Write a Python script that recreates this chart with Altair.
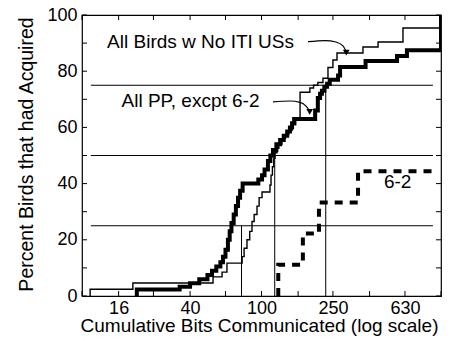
import altair as alt
import pandas as pd

FONT = "Liberation Sans"

# ---- data ----
thin_x = [11.1, 19.2, 53.7, 60.3, 64.2, 78, 80, 83, 86, 88.5,
          91, 94.4, 97, 100.7, 111.5, 113, 115, 117, 119, 122,
          125, 130, 136, 142, 148, 155, 164, 186, 195, 206,
          220, 234.6, 250, 263.4, 367.5, 446, 614, 1000]
thin_y = [2.4, 4.6, 6.8, 8.5, 11.7, 14, 17, 20, 23, 26.5,
          29, 32, 35, 37, 39.5, 43, 46, 49, 51, 52.6,
          54, 56, 57.5, 59, 61, 62.6, 72.5, 74, 75, 76,
          77.5, 81.3, 84, 86.5, 88.6, 90.4, 95.4, 100]
thin_end = 1000

thick_x = [20.2, 35, 40, 45, 50, 53, 56, 59, 61, 63,
           65, 66.5, 68, 70, 72, 74, 76, 78.5, 96, 100.7,
           104, 108.6, 112, 115.8, 121, 127, 133, 139, 144, 148,
           152, 199, 206, 212, 217, 224, 232, 240, 267, 274,
           380, 569, 646, 1000]
thick_y = [2.3, 3.3, 4.5, 6, 7.5, 9, 10.5, 12, 14, 16.5,
           20, 23, 26, 29, 32, 35, 37.5, 40, 41.5, 43,
           45, 48, 50, 52, 54, 55.5, 57, 58.5, 60, 61.5,
           63, 66, 70.5, 72, 73, 74.5, 75.5, 77, 78.5, 81.5,
           83.6, 85.4, 87.5, 100]
thick_end = 1000

pp62_x = [124, 170, 209, 345]
pp62_y = [11.1, 22.2, 33.3, 44.4]
pp62_end = 900

ref_levels = [25, 50, 75]
ref_h_start = 11.2
ref_h_end = 902
ref_v_x = [77.4, 118.5, 228]

x_tick_values = [10, 16, 25, 40, 63, 100, 160, 250, 400, 630, 1000]
x_label_values = [16, 40, 100, 250, 630]
y_tick_values = list(range(0, 101, 10))
y_label_values = [0, 20, 40, 60, 80, 100]

label_texts = ["All Birds w No ITI USs", "All PP, excpt 6-2", "6-2"]
label_x = [13.8, 16.6, 481]
label_y = [88.4, 67.2, 38.3]

arrow1_x = [181.6, 225.9, 260.0, 284.4, 295.6]
arrow1_y = [90.5, 90.9, 90.4, 89.0, 87.2]
arrow2_x = [115.9, 144.2, 163.9, 177.0, 183.9]
arrow2_y = [69.1, 69.4, 68.9, 67.6, 66.2]
head_x = [296.5, 185.5]
head_y = [86.6, 65.5]

W, H = 359, 281
XMIN, XMAX = 10, 1000


def step_rows(name, xs, ys, end):
    rows = [(name, xs[0], 0.0, 0)]
    for i, (a, b) in enumerate(zip(xs, ys)):
        rows.append((name, a, b, i + 1))
    rows.append((name, end, ys[-1], len(xs) + 1))
    return rows


rows = (step_rows("thin", thin_x, thin_y, thin_end)
        + step_rows("thick", thick_x, thick_y, thick_end)
        + step_rows("pp62", pp62_x, pp62_y, pp62_end))
steps = pd.DataFrame(rows, columns=["series", "x", "y", "order"])

xscale = alt.Scale(type="log", domain=[XMIN, XMAX])
yscale = alt.Scale(domain=[0, 100])

xaxis = alt.Axis(values=x_label_values, format="d", tickSize=0, domain=False,
                 grid=False, labelFont=FONT, labelFontSize=18, labelPadding=3,
                 labelColor="black", titleFont=FONT, titleFontSize=19,
                 titleFontWeight="normal", titleColor="black",
                 titleX=177, titleY=35.5, titleBaseline="alphabetic",
                 labelFlush=False)
yaxis = alt.Axis(values=y_label_values, tickSize=0, domain=False, grid=False,
                 labelFont=FONT, labelFontSize=18, labelPadding=5,
                 labelColor="black", titleFont=FONT, titleFontSize=19.5,
                 titleFontWeight="normal", titleColor="black",
                 titleX=-50, titleY=139, titleBaseline="alphabetic",
                 titleAngle=270, labelFlush=False)

XT = "Cumulative Bits Communicated (log scale)"
YT = "Percent Birds that had Acquired"


def X(f):
    return alt.X(f, type="quantitative", scale=xscale, axis=xaxis, title=XT)


def Y(f):
    return alt.Y(f, type="quantitative", scale=yscale, axis=yaxis, title=YT)


# reference lines
href = pd.DataFrame({"y": ref_levels, "x": [ref_h_start] * 3, "x2": [ref_h_end] * 3})
vref = pd.DataFrame({"x": ref_v_x, "y": [0] * 3, "y2": ref_levels})
h_rules = alt.Chart(href).mark_rule(color="black", strokeWidth=1).encode(
    x=X("x"), x2="x2", y=Y("y"))
v_rules = alt.Chart(vref).mark_rule(color="black", strokeWidth=1).encode(
    x=X("x"), y=Y("y"), y2="y2")

# inner ticks (MATLAB style)
tl_y = 5.0 / H * 100
tl_f = 10 ** (5.0 / W * 2)
tick_rows = []
for v in x_tick_values:
    tick_rows.append((v, 0, v, tl_y))
    tick_rows.append((v, 100, v, 100 - tl_y))
for v in y_tick_values:
    tick_rows.append((XMIN, v, XMIN * tl_f, v))
    tick_rows.append((XMAX, v, XMAX / tl_f, v))
ticks = pd.DataFrame(tick_rows, columns=["x", "y", "x2", "y2"])
tick_layer = alt.Chart(ticks).mark_rule(color="black", strokeWidth=1).encode(
    x=X("x"), y=Y("y"), x2="x2", y2="y2")

thin = alt.Chart(steps[steps.series == "thin"]).mark_line(
    interpolate="step-after", color="black", strokeWidth=1.4, clip=True).encode(
    x=X("x"), y=Y("y"), order="order:Q")
thick = alt.Chart(steps[steps.series == "thick"]).mark_line(
    interpolate="step-after", color="black", strokeWidth=4, clip=True).encode(
    x=X("x"), y=Y("y"), order="order:Q")
dashed = alt.Chart(steps[steps.series == "pp62"]).mark_line(
    interpolate="step-after", color="black", strokeWidth=4,
    strokeDash=[8, 7]).encode(
    x=X("x"), y=Y("y"), order="order:Q")

labels = pd.DataFrame({"text": label_texts, "x": label_x, "y": label_y})
text_layer = alt.Chart(labels).mark_text(
    font=FONT, fontSize=19, align="left", baseline="alphabetic",
    color="black").encode(x=X("x"), y=Y("y"), text="text:N")

arrows = pd.DataFrame({
    "x": arrow1_x + arrow2_x,
    "y": arrow1_y + arrow2_y,
    "a": ["a1"] * len(arrow1_x) + ["a2"] * len(arrow2_x),
    "o": list(range(len(arrow1_x))) + list(range(len(arrow2_x))),
})
arrow_lines = alt.Chart(arrows).mark_line(
    interpolate="monotone", color="black", strokeWidth=1.2).encode(
    x=X("x"), y=Y("y"), detail="a:N", order="o:Q")
heads = pd.DataFrame({"x": head_x, "y": head_y})
arrow_heads = alt.Chart(heads).mark_point(
    shape="triangle-down", filled=True, color="black", size=45,
    opacity=1).encode(x=X("x"), y=Y("y"))

chart = alt.layer(
    h_rules, v_rules, tick_layer, thin, thick, dashed,
    text_layer, arrow_lines, arrow_heads
).properties(
    width=W, height=H,
    padding={"left": 82, "top": 15, "right": 15, "bottom": 45},
    autosize=alt.AutoSizeParams(type="none"),
    background="white",
).configure_view(stroke="black", strokeWidth=1.2)

chart.save("out.html", embed_options={"renderer": "svg", "actions": False})
